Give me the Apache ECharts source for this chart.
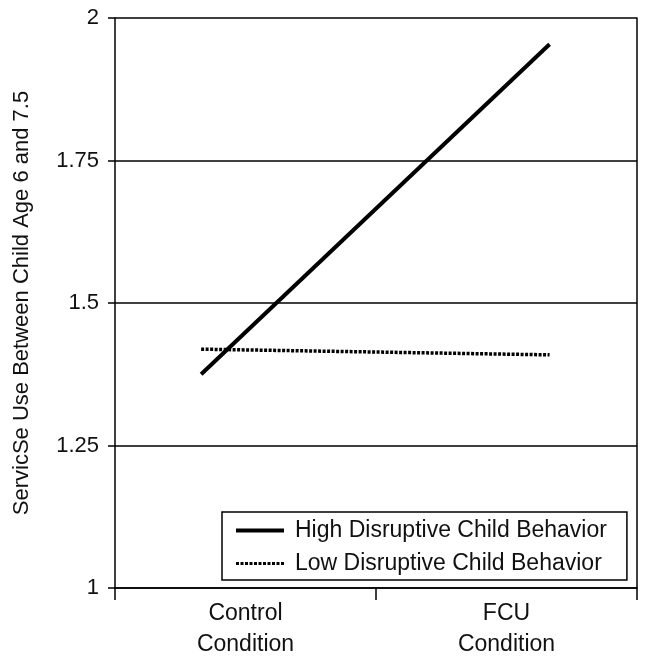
<!DOCTYPE html>
<html>
<head>
<meta charset="utf-8">
<script src="https://cdn.jsdelivr.net/npm/echarts@6/dist/echarts.min.js"></script>
<style>
html,body{margin:0;padding:0;background:#fff;}
#chart{width:649px;height:662px;}
</style>
</head>
<body>
<div id="chart"></div>
<script>
var conditions = ['Control\nCondition', 'FCU\nCondition'];
var xPos = [0.33, 1.665];
var highValues = [1.375, 1.954];
var lowValues = [1.419, 1.409];
var yTicks = [1, 1.25, 1.5, 1.75, 2];

function pairs(xs, ys){
	var out = [];
	for(var i=0;i<xs.length;i++){
		out.push([xs[i], ys[i]]);
	}
	return out;
}

var chart = echarts.init(document.getElementById('chart'));
var font = 'Liberation Sans, Arial, sans-serif';
option = {
	animation: false,
	backgroundColor: '#fff',
	grid: {
		left: 115,
		right: 12,
		top: 18,
		bottom: 74
	},
	legend: {
		orient: 'vertical',
		left: 222,
		top: 512,
		borderColor: '#000',
		borderWidth: 1.5,
		padding: [7, 20, 5, 12],
		itemWidth: 48,
		itemHeight: 14,
		itemGap: 10,
		itemStyle: {opacity: 0},
		textStyle: {fontFamily: font, fontSize: 23, color: '#111', lineHeight: 23, padding: [0, 0, 0, 6]},
		data: [
			{name: 'High Disruptive Child Behavior', lineStyle: {width: 4, color: '#000', type: 'solid'}},
			{name: 'Low Disruptive Child Behavior', lineStyle: {width: 3, color: '#000', type: [3, 1.5]}}
		]
	},
	xAxis: [{
		type: 'value',
		min: 0,
		max: 2,
		interval: 1,
		axisLine: {show: true, lineStyle: {color: '#000', width: 1.5}},
		axisTick: {show: true, length: 12, lineStyle: {color: '#000', width: 1.5}},
		axisLabel: {show: false},
		splitLine: {show: false}
	}, {
		type: 'category',
		position: 'bottom',
		data: conditions,
		axisLine: {show: false},
		axisTick: {show: false},
		axisLabel: {
			margin: 10,
			fontFamily: font,
			fontSize: 23,
			color: '#111',
			lineHeight: 31
		}
	}],
	yAxis: [{
		type: 'value',
		min: yTicks[0],
		max: yTicks[yTicks.length-1],
		interval: 0.25,
		name: 'ServicSe Use Between Child Age 6 and 7.5',
		nameLocation: 'middle',
		nameGap: 82,
		nameTextStyle: {fontFamily: font, fontSize: 22, color: '#111'},
		axisLine: {show: true, lineStyle: {color: '#000', width: 1.5}},
		axisTick: {show: true, length: 7, lineStyle: {color: '#000', width: 1.5}},
		axisLabel: {
			margin: 16,
			fontFamily: font,
			fontSize: 22,
			color: '#111',
			formatter: function(v){ return String(v); }
		},
		splitLine: {show: true, lineStyle: {color: '#000', width: 1.5}}
	}, {
		type: 'value',
		position: 'right',
		min: yTicks[0],
		max: yTicks[yTicks.length-1],
		interval: 0.25,
		axisLine: {show: true, lineStyle: {color: '#000', width: 1.5}},
		axisTick: {show: false},
		axisLabel: {show: false},
		splitLine: {show: false}
	}],
	series: [{
		name: 'High Disruptive Child Behavior',
		type: 'line',
		xAxisIndex: 0,
		yAxisIndex: 0,
		symbol: 'none',
		data: pairs(xPos, highValues),
		lineStyle: {color: '#000', width: 4, type: 'solid'},
		itemStyle: {color: '#000'}
	}, {
		name: 'Low Disruptive Child Behavior',
		type: 'line',
		xAxisIndex: 0,
		yAxisIndex: 0,
		symbol: 'none',
		data: pairs(xPos, lowValues),
		lineStyle: {color: '#000', width: 3.5, type: [3, 1.5]},
		itemStyle: {color: '#000'}
	}]
};
chart.setOption(option);
</script>
</body>
</html>
